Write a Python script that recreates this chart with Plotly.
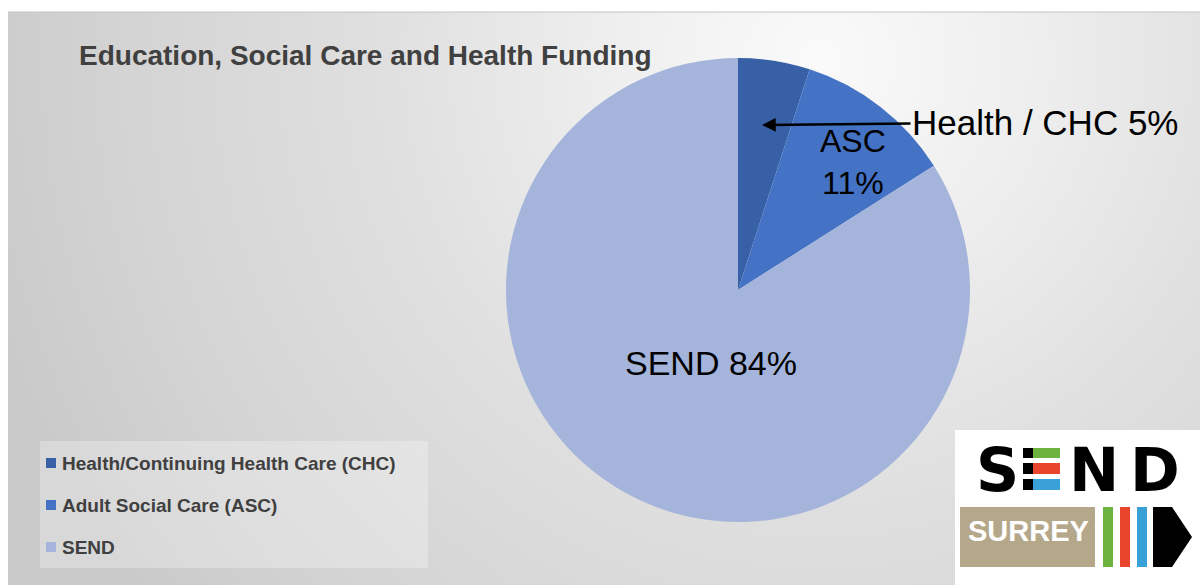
import base64
import plotly.graph_objects as go

# ---------------- data ----------------
categories = ["Health/Continuing Health Care (CHC)", "Adult Social Care (ASC)", "SEND"]
short_labels = ["Health / CHC", "ASC", "SEND"]
values = [5, 11, 84]
colors = ["#3760A6", "#4472C4", "#A5B4DB"]
title_text = "Education, Social Care and Health Funding"

W, H = 1200, 585


def px(x):
    return x / W


def py(y):
    return 1 - y / H


total = sum(values)
pct = [f"{round(v / total * 100)}%" for v in values]

fig = go.Figure()
fig.add_trace(go.Pie(
    labels=categories,
    values=values,
    sort=False,
    direction="clockwise",
    rotation=0,
    marker=dict(colors=colors, line=dict(width=0)),
    textinfo="none",
    hoverinfo="label+percent",
    showlegend=False,
    domain=dict(x=[px(506), px(970)], y=[py(522), py(58)]),
))

# ---------------- background gradient ----------------
svg = (
    '<svg xmlns="http://www.w3.org/2000/svg" width="1192" height="573">'
    '<defs><radialGradient id="g" cx="812" cy="48" r="860" gradientUnits="userSpaceOnUse">'
    '<stop offset="0" stop-color="#fafafa"/>'
    '<stop offset="0.25" stop-color="#eeeeee"/>'
    '<stop offset="0.5" stop-color="#e0e0e0"/>'
    '<stop offset="0.8" stop-color="#d4d4d4"/>'
    '<stop offset="1" stop-color="#cacaca"/>'
    '</radialGradient></defs>'
    '<rect width="1192" height="573" fill="url(#g)"/></svg>'
)
src = "data:image/svg+xml;base64," + base64.b64encode(svg.encode()).decode()

images = [dict(source=src, xref="paper", yref="paper", x=px(8), y=py(12),
               sizex=1192 / W, sizey=573 / H, xanchor="left", yanchor="top",
               sizing="stretch", layer="below")]

shapes = []
annotations = []

# top border line
shapes.append(dict(type="line", xref="paper", yref="paper", x0=px(8), x1=1, y0=py(12), y1=py(12),
                   line=dict(color="#c4c4c4", width=1)))

# title
annotations.append(dict(text=title_text, xref="paper", yref="paper", x=px(77), y=py(55),
                        xanchor="left", yanchor="middle", showarrow=False,
                        font=dict(family="Liberation Sans, Arial", size=28, color="#404040", weight="bold")))

# slice labels
annotations.append(dict(text=f"{short_labels[0]} {pct[0]}", xref="paper", yref="paper",
                        x=px(762), y=py(125), ax=283, ay=-3, xanchor="center", yanchor="middle",
                        showarrow=True, arrowhead=2, arrowsize=1.1, arrowwidth=2.5, arrowcolor="#000000",
                        standoff=0, startstandoff=0,
                        font=dict(family="Liberation Sans, Arial", size=35, color="#000000")))
annotations.append(dict(text=f"{short_labels[1]}<br>{pct[1]}", xref="paper", yref="paper",
                        x=px(853), y=py(162), xanchor="center", yanchor="middle", showarrow=False,
                        font=dict(family="Liberation Sans, Arial", size=32, color="#000000")))
annotations.append(dict(text=f"{short_labels[2]} {pct[2]}", xref="paper", yref="paper",
                        x=px(711), y=py(363), xanchor="center", yanchor="middle", showarrow=False,
                        font=dict(family="Liberation Sans, Arial", size=34, color="#000000")))

# legend (box + entries)
shapes.append(dict(type="rect", xref="paper", yref="paper", x0=px(40), x1=px(428), y0=py(568), y1=py(441),
                   fillcolor="rgba(255,255,255,0.28)", line=dict(width=0), layer="below"))
leg_y = [463, 505, 547]
for name, col, yy in zip(categories, colors, leg_y):
    shapes.append(dict(type="rect", xref="paper", yref="paper", x0=px(46), x1=px(56),
                       y0=py(yy + 5), y1=py(yy - 5), fillcolor=col, line=dict(width=0)))
    annotations.append(dict(text=name, xref="paper", yref="paper", x=px(60), y=py(yy),
                            xanchor="left", yanchor="middle", showarrow=False,
                            font=dict(family="Liberation Sans, Arial", size=19, color="#404040", weight="bold")))

# ---------------- SEND SURREY logo ----------------
shapes.append(dict(type="rect", xref="paper", yref="paper", x0=px(955), x1=px(1200), y0=0, y1=py(430),
                   fillcolor="#ffffff", line=dict(width=0)))
logo_font = dict(family="DejaVu Sans, Liberation Sans", size=60, color="#000000", weight="bold")
for letter, cx in [("S", 997), ("N", 1094), ("D", 1155)]:
    annotations.append(dict(text=letter, xref="paper", yref="paper", x=px(cx), y=py(470),
                            xanchor="center", yanchor="middle", showarrow=False, font=logo_font))
stripe_cols = ["#6DB33F", "#E8452C", "#3AA0D8"]
for (y0, y1), sc in zip([(448, 458), (463, 474), (479, 490)], stripe_cols):
    shapes.append(dict(type="rect", xref="paper", yref="paper", x0=px(1023), x1=px(1033),
                       y0=py(y1), y1=py(y0), fillcolor="#000000", line=dict(width=0)))
    shapes.append(dict(type="rect", xref="paper", yref="paper", x0=px(1033), x1=px(1060),
                       y0=py(y1), y1=py(y0), fillcolor=sc, line=dict(width=0)))
shapes.append(dict(type="rect", xref="paper", yref="paper", x0=px(960), x1=px(1095), y0=py(567), y1=py(507),
                   fillcolor="#B5A88A", line=dict(width=0)))
annotations.append(dict(text="SURREY", xref="paper", yref="paper", x=px(1028), y=py(531),
                        xanchor="center", yanchor="middle", showarrow=False,
                        font=dict(family="Liberation Sans, Arial", size=29,
                                  color="#ffffff", weight="bold")))
for (x0, x1), sc in zip([(1103, 1113), (1120, 1130), (1137, 1147)], stripe_cols):
    shapes.append(dict(type="rect", xref="paper", yref="paper", x0=px(x0), x1=px(x1), y0=py(567), y1=py(507),
                       fillcolor=sc, line=dict(width=0)))
arrow_path = (f"M {px(1153)},{py(507)} L {px(1172)},{py(507)} L {px(1192)},{py(537)} "
              f"L {px(1172)},{py(567)} L {px(1153)},{py(567)} Z")
shapes.append(dict(type="path", xref="paper", yref="paper", path=arrow_path,
                   fillcolor="#000000", line=dict(width=0)))

fig.update_layout(
    width=W, height=H,
    margin=dict(l=0, r=0, t=0, b=0),
    paper_bgcolor="#ffffff",
    plot_bgcolor="#ffffff",
    images=images,
    shapes=shapes,
    annotations=annotations,
    showlegend=False,
)

fig.write_html("out.html")
